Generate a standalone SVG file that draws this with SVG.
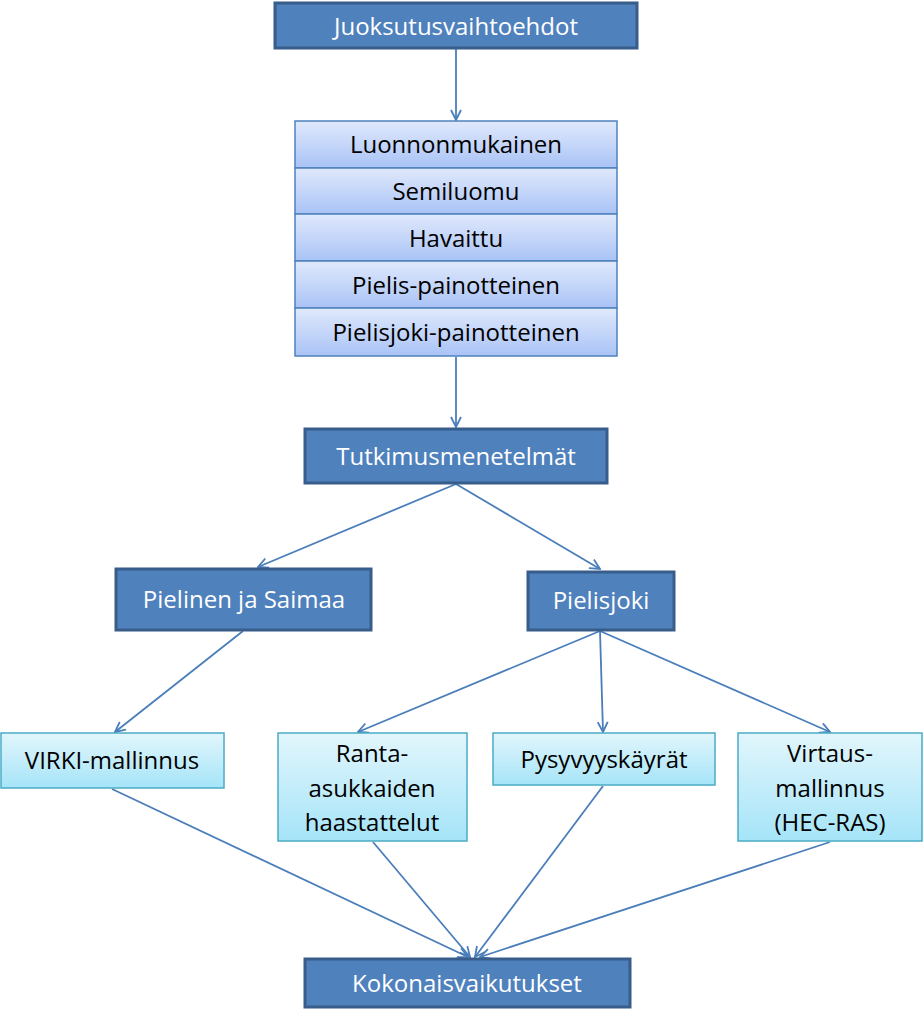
<svg xmlns="http://www.w3.org/2000/svg" width="924" height="1018" viewBox="0 0 924 1018">
<defs>
<linearGradient id="gBlue" x1="0" y1="0" x2="0" y2="1"><stop offset="0" stop-color="#E0E9FC"/><stop offset="1" stop-color="#A9C3F6"/></linearGradient>
<linearGradient id="gCyan" x1="0" y1="0" x2="0" y2="1"><stop offset="0" stop-color="#E2F6FC"/><stop offset="1" stop-color="#A5E4F8"/></linearGradient>
<marker id="arr" viewBox="0 0 12 12" refX="11" refY="6" markerWidth="12" markerHeight="12" markerUnits="userSpaceOnUse" orient="auto"><polyline points="1,1 11,6 1,11" fill="none" stroke="#4A7EBB" stroke-width="1.8"/></marker>
<style>
.dark{fill:#4F81BD;stroke:#385D8A;stroke-width:3}
.stack{fill:url(#gBlue);stroke:#4F81BD;stroke-width:1.5}
.cyan{fill:url(#gCyan);stroke:#4BACC6;stroke-width:1.5}
.wt{font-family:"Open Sans","Lato",sans-serif;font-size:24px;fill:#FFFFFF;text-anchor:middle}
.bt{font-family:"Open Sans","Lato",sans-serif;font-size:24px;fill:#000000;text-anchor:middle}
.con{stroke:#4A7EBB;stroke-width:1.8;fill:none;marker-end:url(#arr)}
</style>
</defs>
<g id="connectors">
<line class="con" x1="456" y1="49" x2="456" y2="120"/>
<line class="con" x1="456" y1="357" x2="456" y2="427"/>
<line class="con" x1="456" y1="484" x2="258" y2="567"/>
<line class="con" x1="456" y1="484" x2="600" y2="569"/>
<line class="con" x1="243" y1="631" x2="115" y2="732"/>
<line class="con" x1="600" y1="631" x2="358" y2="732"/>
<line class="con" x1="600" y1="631" x2="603" y2="732"/>
<line class="con" x1="600" y1="631" x2="830" y2="732"/>
<line class="con" x1="112" y1="789" x2="468" y2="957"/>
<line class="con" x1="373" y1="842" x2="470" y2="957"/>
<line class="con" x1="603" y1="786" x2="475" y2="957"/>
<line class="con" x1="830" y1="842" x2="480" y2="957"/>
</g>
<g id="juoksutusvaihtoehdot"><rect class="dark" x="275" y="3" width="362" height="45"/><text class="wt" x="456" y="35">Juoksutusvaihtoehdot</text></g>
<g id="stack">
<g id="luonnonmukainen"><rect class="stack" x="295" y="121" width="322" height="47"/><text class="bt" x="456" y="153">Luonnonmukainen</text></g>
<g id="semiluomu"><rect class="stack" x="295" y="168" width="322" height="46"/><text class="bt" x="456" y="200">Semiluomu</text></g>
<g id="havaittu"><rect class="stack" x="295" y="214" width="322" height="47"/><text class="bt" x="456" y="247">Havaittu</text></g>
<g id="pielis-painotteinen"><rect class="stack" x="295" y="261" width="322" height="47"/><text class="bt" x="456" y="294">Pielis-painotteinen</text></g>
<g id="pielisjoki-painotteinen"><rect class="stack" x="295" y="308" width="322" height="48"/><text class="bt" x="456" y="341">Pielisjoki-painotteinen</text></g>
</g>
<g id="tutkimusmenetelmat"><rect class="dark" x="305" y="429" width="302" height="54"/><text class="wt" x="456" y="465">Tutkimusmenetelmät</text></g>
<g id="pielinen"><rect class="dark" x="116" y="569" width="255" height="61"/><text class="wt" x="244" y="608">Pielinen ja Saimaa</text></g>
<g id="pielisjoki"><rect class="dark" x="528" y="572" width="146" height="58"/><text class="wt" x="601" y="609">Pielisjoki</text></g>
<g id="virki"><rect class="cyan" x="1" y="733" width="223" height="55"/><text class="bt" x="112" y="769">VIRKI-mallinnus</text></g>
<g id="ranta"><rect class="cyan" x="278" y="733" width="189" height="108"/><text class="bt" x="372" y="762">Ranta-</text><text class="bt" x="372" y="797">asukkaiden</text><text class="bt" x="372" y="831">haastattelut</text></g>
<g id="pysyvyys"><rect class="cyan" x="493" y="733" width="222" height="52"/><text class="bt" x="604" y="768">Pysyvyyskäyrät</text></g>
<g id="virtaus"><rect class="cyan" x="738" y="733" width="184" height="108"/><text class="bt" x="830" y="762">Virtaus-</text><text class="bt" x="830" y="797">mallinnus</text><text class="bt" x="830" y="831">(HEC-RAS)</text></g>
<g id="kokonais"><rect class="dark" x="305" y="959" width="325" height="48"/><text class="wt" x="467" y="992">Kokonaisvaikutukset</text></g>
</svg>
